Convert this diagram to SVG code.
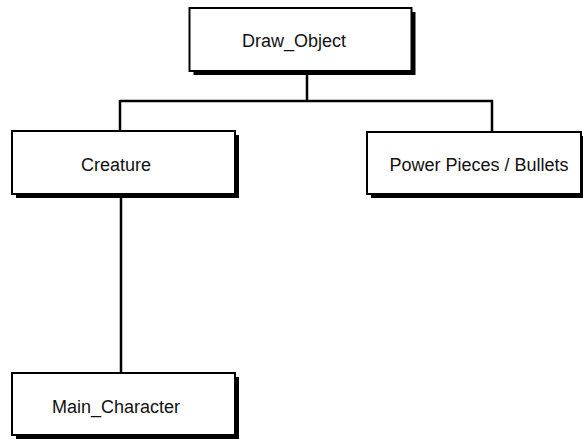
<svg xmlns="http://www.w3.org/2000/svg" width="583" height="439" viewBox="0 0 583 439">
<defs>
<style>
.shadow{fill:#000;}
.box{fill:#fff;stroke:#000;stroke-width:2;}
.lbl{font-family:"Liberation Sans",Arial,sans-serif;font-size:18px;fill:#111;text-anchor:middle;}
.conn{fill:none;stroke:#000;stroke-width:2.5;}
</style>
</defs>
<rect width="583" height="439" fill="#fff"/>
<g id="connectors">
<path class="conn" d="M307,71 V101 M120,101 H493 M120,100 V131 M492,100 V132 M121,194 V373"/>
</g>
<g id="draw_object">
<rect class="shadow" x="193.5" y="12" width="222" height="63"/>
<rect class="box" x="189.5" y="8" width="222" height="63"/>
<text class="lbl" x="294" y="47">Draw_Object</text>
</g>
<g id="creature">
<rect class="shadow" x="16" y="135" width="223" height="63"/>
<rect class="box" x="12" y="131" width="223" height="63"/>
<text class="lbl" x="116" y="171">Creature</text>
</g>
<g id="power_pieces">
<rect class="shadow" x="371" y="136" width="214" height="62"/>
<rect class="box" x="367" y="132" width="214" height="62"/>
<text class="lbl" x="479" y="171">Power Pieces / Bullets</text>
</g>
<g id="main_character">
<rect class="shadow" x="16" y="377" width="223" height="63"/>
<rect class="box" x="12" y="373" width="223" height="62"/>
<text class="lbl" x="116" y="413">Main_Character</text>
</g>
</svg>
